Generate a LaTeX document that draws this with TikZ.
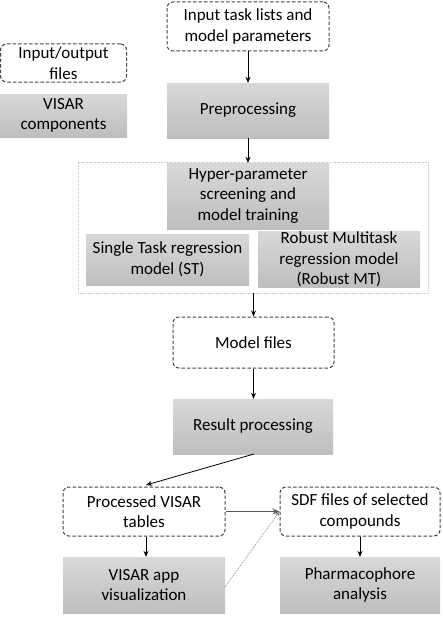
\documentclass[tikz,border=0pt]{standalone}
\usepackage{fontspec}
\setmainfont{Carlito}
\usetikzlibrary{arrows.meta,shadings}
\definecolor{gtop}{HTML}{D8D8D8}
\definecolor{gbot}{HTML}{BEBEBE}
\definecolor{dashc}{HTML}{444444}
\definecolor{outerc}{HTML}{CCCCCC}
\definecolor{arrc}{HTML}{5A5A5A}
\tikzset{
  base/.style={align=center, inner sep=0pt, font=\fontsize{17}{20.5}\selectfont, text=black},
  filebox/.style={base, draw=dashc, line width=1pt, dash pattern=on 3.5pt off 2pt, rounded corners=6pt},
  compbox/.style={base, top color=gtop, bottom color=gbot, draw=none},
  outerbox/.style={draw=outerc, line width=0.8pt, dash pattern=on 1pt off 0.6pt},
  conn/.style={line width=0.8pt, -{Stealth[length=6pt,width=5pt]}},
  grayconn/.style={line width=1.4pt, draw=arrc, -{Stealth[length=7pt,width=6pt]}},
  dotconn/.style={line width=0.6pt, draw=gray, dash pattern=on 1pt off 1pt, -{Stealth[length=5pt,width=4pt]}}
}
\begin{document}
\begin{tikzpicture}[x=1pt,y=-1pt]
\useasboundingbox (0,0) rectangle (442,618);
\node[outerbox, minimum width=350pt, minimum height=131pt] (outer) at (253,227.5) {};
\node[filebox, minimum width=162pt, minimum height=49pt] (in) at (248,26.5) {Input task lists and\\model parameters};
\node[filebox, minimum width=126pt, minimum height=38pt] (io) at (63.5,63) {Input/output\\files};
\node[compbox, minimum width=127pt, minimum height=43pt] (comp) at (63.5,115.5) {VISAR\\components};
\node[compbox, minimum width=162pt, minimum height=55pt] (pre) at (248,110.5) {Preprocessing};
\node[compbox, minimum width=162pt, minimum height=66pt] (hyper) at (248,196) {Hyper-parameter\\screening and\\model training};
\node[compbox, minimum width=163pt, minimum height=51pt] (st) at (167.5,259.5) {Single Task regression\\model (ST)};
\node[compbox, minimum width=162pt, minimum height=51pt] (mt) at (339,259.5) {Robust Multitask\\regression model\\(Robust MT)};
\node[filebox, minimum width=161pt, minimum height=51pt] (mf) at (253.5,342.5) {Model files};
\node[compbox, minimum width=160pt, minimum height=55pt] (rp) at (253,426.5) {Result processing};
\node[filebox, minimum width=162pt, minimum height=49pt] (pt) at (144,511.5) {Processed VISAR\\tables};
\node[filebox, minimum width=160pt, minimum height=49pt] (sdf) at (360,511.5) {SDF files of selected\\compounds};
\node[compbox, minimum width=162pt, minimum height=56pt] (app) at (144,585) {VISAR app\\visualization};
\node[compbox, minimum width=160pt, minimum height=56pt] (ph) at (360,585) {Pharmacophore\\analysis};
\coordinate (rpb) at (254,454);
\coordinate (ptt) at (146,485);
\coordinate (appc) at (225,587);
\draw[conn] (in.south) -- (pre.north);
\draw[conn] (pre.south) -- (hyper.north);
\draw[conn] (outer.south -| mf.north) -- (mf.north);
\draw[conn] (mf.south) -- (mf.south |- rp.north);
\draw[conn] (rpb) -- (ptt);
\draw[conn] (pt.south -| ptt) -- (app.north -| ptt);
\draw[conn] (sdf.south) -- (ph.north);
\draw[grayconn] (pt.east) -- (sdf.west);
\draw[dotconn] (appc) -- (sdf.west);
\end{tikzpicture}
\end{document}
